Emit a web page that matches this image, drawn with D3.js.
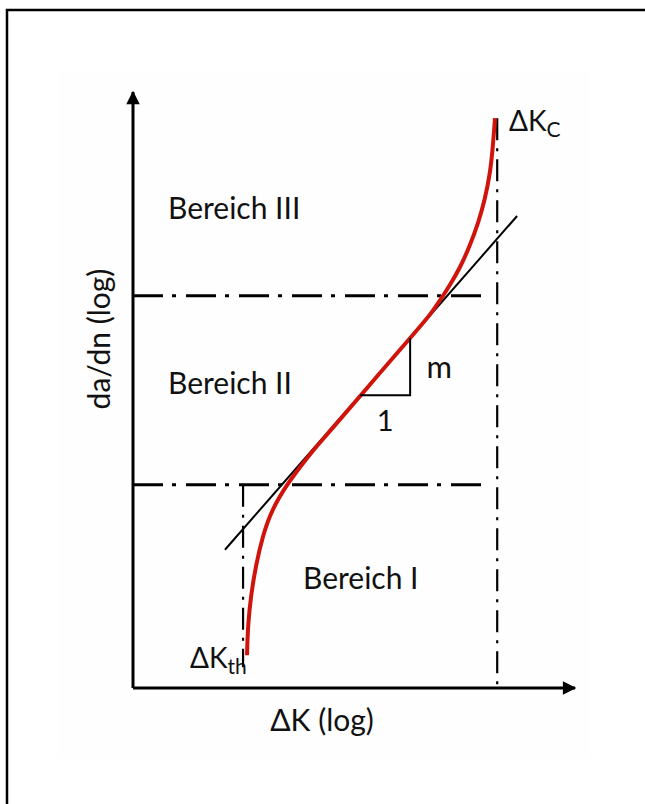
<!DOCTYPE html>
<html>
<head>
<meta charset="utf-8">
<script src="https://cdn.jsdelivr.net/npm/d3@7"></script>
<style>
    html, body { margin: 0; background: #ffffff; overflow: hidden; }
    svg { display: block; }
    text { font-family: Lato, "Open Sans", sans-serif; fill: #111; }
</style>
</head>
<body>
<div id="chartContainer"></div>
<script>
'use strict';

// log(dK) and log(da/dn) in arbitrary units, 0..10 on both axes
const crackK = [2.58, 2.60, 2.67, 2.78, 2.94, 3.14, 3.48, 3.78, 4.12, 4.46, 5.59, 6.49, 6.72, 6.95, 7.17, 7.40, 7.62, 7.81, 7.96, 8.08, 8.14, 8.19];
const crackRate = [0.55, 1.06, 1.56, 2.06, 2.57, 2.99, 3.41, 3.71, 4.03, 4.31, 5.29, 6.06, 6.26, 6.51, 6.76, 7.05, 7.42, 7.80, 8.19, 8.64, 9.06, 9.56];

// Paris line (straight fit of region II)
const parisK = [2.08, 8.69];
const parisRate = [2.32, 7.92];

// region boundaries
const regionBounds = [3.41, 6.58];
const thresholdK = 2.49;
const criticalK = 8.24;

const regionLabels = ["Bereich I", "Bereich II", "Bereich III"];

const initializePlot = () => {
    const width = 645, height = 804;

    const svg = d3.select("#chartContainer")
        .append("svg")
        .attr("width", width)
        .attr("height", height);

    // faint picture background
    svg.append("rect")
        .attr("x", 58).attr("y", 72)
        .attr("width", 532).attr("height", 686)
        .style("fill", "#fefefe");

    // frame: only the top and left edges are inside the picture
    svg.append("path")
        .attr("d", "M7," + height + "L7,10L" + width + ",10")
        .style("fill", "none")
        .style("stroke", "#000")
        .style("stroke-width", 2.5);

    const x = d3.scaleLinear().domain([0, 10]).range([133, 575]);
    const y = d3.scaleLinear().domain([0, 10]).range([688, 92]);

    plotAxes(svg, x, y);
    plotBoundaries(svg, x, y);
    plotCurve(svg, x, y);
    plotLabels(svg, x, y);
}

// Axes with arrow heads
const plotAxes = (svg, x, y) => {
    const defs = svg.append("defs");
    defs.append("marker")
        .attr("id", "arrow")
        .attr("viewBox", "0 0 10 10")
        .attr("refX", 9).attr("refY", 5)
        .attr("markerWidth", 5.5).attr("markerHeight", 4.5)
        .attr("markerUnits", "strokeWidth")
        .attr("orient", "auto")
        .append("path")
        .attr("d", "M0,0 L10,5 L0,10 Z")
        .style("fill", "#000");

    svg.append("line")
        .attr("x1", x(0)).attr("y1", y(0))
        .attr("x2", x(0)).attr("y2", y(10))
        .style("stroke", "#000")
        .style("stroke-width", 3)
        .attr("marker-end", "url(#arrow)");

    svg.append("line")
        .attr("x1", x(0)).attr("y1", y(0))
        .attr("x2", x(10)).attr("y2", y(0))
        .style("stroke", "#000")
        .style("stroke-width", 3)
        .attr("marker-end", "url(#arrow)");
}

// Dash-dot boundaries between the regions
const plotBoundaries = (svg, x, y) => {
    const dash = "30,9,4,10";

    svg.selectAll(".regionLine")
        .data(regionBounds)
        .enter()
        .append("line")
        .attr("class", "regionLine")
        .attr("x1", x(0))
        .attr("x2", x(8.0))
        .attr("y1", d => y(d))
        .attr("y2", d => y(d))
        .style("stroke", "#000")
        .style("stroke-width", 3)
        .style("stroke-dasharray", dash);

    svg.append("line")
        .attr("x1", x(criticalK)).attr("y1", y(9.56))
        .attr("x2", x(criticalK)).attr("y2", y(0))
        .style("stroke", "#000")
        .style("stroke-width", 2.2)
        .style("stroke-dasharray", "22,8,3,8");

    svg.append("line")
        .attr("x1", x(thresholdK)).attr("y1", y(regionBounds[0]))
        .attr("x2", x(thresholdK)).attr("y2", y(0.35))
        .style("stroke", "#000")
        .style("stroke-width", 2.2)
        .style("stroke-dasharray", "22,8,3,8");
}

// Red crack growth curve, Paris line and slope triangle
const plotCurve = (svg, x, y) => {
    const points = crackK.map((k, i) => [k, crackRate[i]]);

    svg.append("line")
        .attr("x1", x(parisK[0])).attr("y1", y(parisRate[0]))
        .attr("x2", x(parisK[1])).attr("y2", y(parisRate[1]))
        .style("stroke", "#000")
        .style("stroke-width", 2);

    svg.append("path")
        .datum(points)
        .attr("d", d3.line()
            .x(d => x(d[0]))
            .y(d => y(d[1]))
            .curve(d3.curveBasis))
        .style("fill", "none")
        .style("stroke", "#d0140c")
        .style("stroke-width", 4);

    // slope triangle on the Paris line
    const slope = (parisRate[1] - parisRate[0]) / (parisK[1] - parisK[0]);
    const k0 = 5.14, k1 = 6.27;
    const r0 = parisRate[0] + slope * (k0 - parisK[0]);
    const r1 = parisRate[0] + slope * (k1 - parisK[0]);

    svg.append("path")
        .attr("d", "M" + x(k0) + "," + y(r0) + "L" + x(k1) + "," + y(r0) + "L" + x(k1) + "," + y(r1))
        .style("fill", "none")
        .style("stroke", "#000")
        .style("stroke-width", 2);

    svg.append("text")
        .attr("x", x(k1) + 29).attr("y", (y(r0) + y(r1)) / 2 + 11)
        .style("text-anchor", "middle")
        .style("font-size", "31px")
        .text("m");

    svg.append("text")
        .attr("x", (x(k0) + x(k1)) / 2).attr("y", y(r0) + 36)
        .style("text-anchor", "middle")
        .style("font-size", "29px")
        .text("1");
}

// Region names, axis titles and threshold labels
const plotLabels = (svg, x, y) => {
    const fs = "30px";

    svg.append("text").attr("x", 168).attr("y", 219).style("font-size", fs).text(regionLabels[2]);
    svg.append("text").attr("x", 168).attr("y", 394).style("font-size", fs).text(regionLabels[1]);
    svg.append("text").attr("x", 303).attr("y", 589).style("font-size", fs).text(regionLabels[0]);

    svg.append("text")
        .attr("x", 322).attr("y", 731)
        .style("text-anchor", "middle")
        .style("font-size", fs)
        .text("ΔK (log)");

    svg.append("text")
        .attr("transform", "translate(110,339) rotate(-90)")
        .style("text-anchor", "middle")
        .style("font-size", fs)
        .text("da/dn (log)");

    const kc = svg.append("text").attr("x", 509).attr("y", 131).style("font-size", "28px");
    kc.append("tspan").text("ΔK");
    kc.append("tspan").attr("dy", 6).style("font-size", "21px").text("C");

    const kth = svg.append("text").attr("x", 190).attr("y", 668).style("font-size", "28px");
    kth.append("tspan").text("ΔK");
    kth.append("tspan").attr("dy", 6).style("font-size", "21px").text("th");
}

initializePlot();
</script>
</body>
</html>
